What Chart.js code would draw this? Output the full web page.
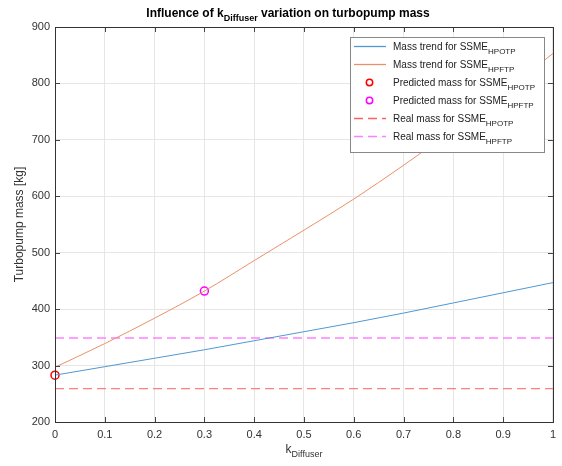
<!DOCTYPE html>
<html>
<head>
<meta charset="utf-8">
<script src="https://cdn.jsdelivr.net/npm/chart.js@4/dist/chart.umd.min.js"></script>
<style>
  html, body { margin: 0; padding: 0; background: #fff; }
  #wrap { width: 562px; height: 466px; }
</style>
</head>
<body>
<div id="wrap"><canvas id="massChart" width="562" height="466"></canvas></div>
<script>
// valeurs
const kValues = [0, 0.1, 0.2, 0.3, 0.4, 0.5, 0.6, 0.7, 0.8, 0.9, 1];
const hpotpTrend = [283, 298, 313, 328, 344, 360, 376, 393, 411, 429, 447];
const hpftpTrend = [297, 339, 384, 432, 486, 540, 595, 655, 718, 784, 853];
const predictedK = [0, 0.3];
const predictedMass = [283, 432];
const realMassHpotp = 259;
const realMassHpftp = 349;
const xTicks = [0, 0.1, 0.2, 0.3, 0.4, 0.5, 0.6, 0.7, 0.8, 0.9, 1];
const yTicks = [200, 300, 400, 500, 600, 700, 800, 900];

const FONT = '"Liberation Sans", Arial, Helvetica, sans-serif';

const legendItems = [
  { base: 'Mass trend for SSME', sub: 'HPOTP', kind: 'line', color: '#4f98d4' },
  { base: 'Mass trend for SSME', sub: 'HPFTP', kind: 'line', color: '#ea9068' },
  { base: 'Predicted mass for SSME', sub: 'HPOTP', kind: 'circle', color: '#ff0000' },
  { base: 'Predicted mass for SSME', sub: 'HPFTP', kind: 'circle', color: '#ff00ff' },
  { base: 'Real mass for SSME', sub: 'HPOTP', kind: 'dash', color: '#ff6060' },
  { base: 'Real mass for SSME', sub: 'HPFTP', kind: 'dash', color: '#ff80ff' }
];

// texte avec indice (style MATLAB)
function drawSub(ctx, base, sub, x, y, size, bold, align) {
  const w = bold ? 'bold ' : '';
  ctx.font = w + size + 'px ' + FONT;
  const bw = ctx.measureText(base).width;
  ctx.font = w + Math.round(size * 0.75) + 'px ' + FONT;
  const sw = ctx.measureText(sub).width;
  let x0 = x;
  if (align === 'center') x0 = x - (bw + sw) / 2;
  ctx.textAlign = 'left';
  ctx.textBaseline = 'alphabetic';
  ctx.font = w + size + 'px ' + FONT;
  ctx.fillText(base, x0, y);
  ctx.font = w + Math.round(size * 0.75) + 'px ' + FONT;
  ctx.fillText(sub, x0 + bw, y + size * 0.35);
  return x0 + bw + sw;
}

const matlabDecor = {
  id: 'matlabDecor',
  afterDatasetsDraw(chart) {
    const ctx = chart.ctx;
    const a = chart.chartArea;
    const xs = chart.scales.x, ys = chart.scales.y;
    ctx.save();
    // ticks vers l'intérieur
    ctx.strokeStyle = '#444';
    ctx.lineWidth = 1;
    ctx.beginPath();
    xTicks.forEach(v => {
      const px = Math.round(xs.getPixelForValue(v)) + 0.5;
      ctx.moveTo(px, a.bottom); ctx.lineTo(px, a.bottom - 5);
      ctx.moveTo(px, a.top); ctx.lineTo(px, a.top + 5);
    });
    yTicks.forEach(v => {
      const py = Math.round(ys.getPixelForValue(v)) + 0.5;
      ctx.moveTo(a.left, py); ctx.lineTo(a.left + 5, py);
      ctx.moveTo(a.right, py); ctx.lineTo(a.right - 5, py);
    });
    ctx.stroke();
    // cadre
    ctx.strokeStyle = '#333';
    ctx.strokeRect(Math.round(a.left) + 0.5, Math.round(a.top) + 0.5,
      Math.round(a.right - a.left), Math.round(a.bottom - a.top));

    // titre
    ctx.fillStyle = '#000';
    ctx.font = 'bold 12px ' + FONT;
    const t1 = 'Influence of k', t3 = ' variation on turbopump mass';
    const w1 = ctx.measureText(t1).width, w3 = ctx.measureText(t3).width;
    ctx.font = 'bold 9px ' + FONT;
    const w2 = ctx.measureText('Diffuser').width;
    let tx = 288 - (w1 + w2 + w3) / 2;
    ctx.textAlign = 'left';
    ctx.textBaseline = 'alphabetic';
    ctx.font = 'bold 12px ' + FONT;
    ctx.fillText(t1, tx, 17);
    ctx.font = 'bold 9px ' + FONT;
    ctx.fillText('Diffuser', tx + w1, 21);
    ctx.font = 'bold 12px ' + FONT;
    ctx.fillText(t3, tx + w1 + w2, 17);

    // titre axe x
    ctx.fillStyle = '#333';
    drawSub(ctx, 'k', 'Diffuser', (a.left + a.right) / 2, 453, 12, false, 'center');

    // titre axe y
    ctx.save();
    ctx.translate(20, (a.top + a.bottom) / 2);
    ctx.rotate(-Math.PI / 2);
    ctx.font = '12px ' + FONT;
    ctx.textAlign = 'center';
    ctx.textBaseline = 'middle';
    ctx.fillText('Turbopump mass [kg]', 0, 0);
    ctx.restore();

    // légende
    const lx = 350.5, ly = 37.5, lw = 194, lh = 115;
    ctx.fillStyle = '#fff';
    ctx.fillRect(lx, ly, lw, lh);
    ctx.strokeStyle = '#888';
    ctx.lineWidth = 1;
    ctx.strokeRect(lx, ly, lw, lh);
    legendItems.forEach((it, i) => {
      const cy = ly + 9 + i * 18;
      if (it.kind === 'line' || it.kind === 'dash') {
        ctx.save();
        ctx.strokeStyle = it.color;
        ctx.lineWidth = 1.3;
        ctx.setLineDash(it.kind === 'dash' ? [9, 5] : []);
        ctx.beginPath();
        ctx.moveTo(354, cy);
        ctx.lineTo(386, cy);
        ctx.stroke();
        ctx.restore();
      } else {
        ctx.save();
        ctx.strokeStyle = it.color;
        ctx.lineWidth = 1.5;
        ctx.beginPath(); ctx.arc(369.5, cy, 3.2, 0, Math.PI * 2); ctx.stroke();
        ctx.restore();
      }
      ctx.fillStyle = '#222';
      drawSub(ctx, it.base, it.sub, 393, cy + 3.5, 10, false, 'left');
    });
    ctx.restore();
  }
};

const ctx = document.getElementById('massChart').getContext('2d');
new Chart(ctx, {
  type: 'line',
  data: {
    datasets: [
      {
        label: 'Mass trend for SSME HPOTP',
        data: kValues.map((k, i) => ({ x: k, y: hpotpTrend[i] })),
        borderColor: '#4f98d4', borderWidth: 1, pointRadius: 0,
        cubicInterpolationMode: 'monotone'
      },
      {
        label: 'Mass trend for SSME HPFTP',
        data: kValues.map((k, i) => ({ x: k, y: hpftpTrend[i] })),
        borderColor: '#ea9068', borderWidth: 1, pointRadius: 0,
        cubicInterpolationMode: 'monotone'
      },
      {
        label: 'Real mass for SSME HPOTP',
        data: [{ x: 0, y: realMassHpotp }, { x: 1, y: realMassHpotp }],
        borderColor: '#ff6060', borderWidth: 1, borderDash: [9, 5], pointRadius: 0
      },
      {
        label: 'Real mass for SSME HPFTP',
        data: [{ x: 0, y: realMassHpftp }, { x: 1, y: realMassHpftp }],
        borderColor: '#ff80ff', borderWidth: 1.5, borderDash: [9, 5], pointRadius: 0
      },
      {
        label: 'Predicted mass for SSME HPOTP',
        data: [{ x: predictedK[0], y: predictedMass[0] }],
        showLine: false, pointRadius: 4, pointBorderWidth: 1.5,
        pointBorderColor: '#ff0000', pointBackgroundColor: 'rgba(0,0,0,0)'
      },
      {
        label: 'Predicted mass for SSME HPFTP',
        data: [{ x: predictedK[1], y: predictedMass[1] }],
        showLine: false, pointRadius: 4, pointBorderWidth: 1.5,
        pointBorderColor: '#ff00ff', pointBackgroundColor: 'rgba(0,0,0,0)'
      }
    ]
  },
  options: {
    responsive: false,
    animation: false,
    clip: false,
    layout: { padding: { top: 27, right: 8, left: 0, bottom: 0 } },
    scales: {
      x: {
        type: 'linear', min: 0, max: 1,
        afterFit: s => { s.height = 44; },
        afterBuildTicks: s => { s.ticks = xTicks.map(v => ({ value: v })); },
        grid: { color: '#e6e6e6', tickLength: 0, drawTicks: false },
        border: { display: false },
        ticks: {
          color: '#333', padding: 6,
          font: { family: FONT, size: 11 },
          callback: v => String(v)
        }
      },
      y: {
        min: 200, max: 900,
        afterFit: s => { s.width = 55; },
        afterBuildTicks: s => { s.ticks = yTicks.map(v => ({ value: v })); },
        grid: { color: '#e6e6e6', tickLength: 0, drawTicks: false },
        border: { display: false },
        ticks: {
          color: '#333', padding: 5,
          font: { family: FONT, size: 11 }
        }
      }
    },
    plugins: {
      legend: { display: false },
      title: { display: false },
      tooltip: { enabled: false }
    }
  },
  plugins: [matlabDecor]
});
</script>
</body>
</html>
